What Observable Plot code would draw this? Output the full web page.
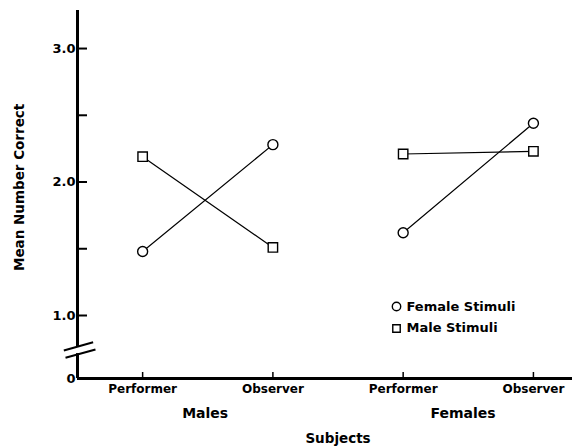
<!DOCTYPE html>
<html>
<head>
<meta charset="utf-8">
<script src="https://cdn.jsdelivr.net/npm/d3@7"></script>
<script src="https://cdn.jsdelivr.net/npm/@observablehq/plot@0.6"></script>
<style>
  html, body { margin: 0; padding: 0; background: #fff; }
  #chart svg { display: block; }
</style>
</head>
<body>
<div id="chart"></div>
<script>
// ---- data ----
const positions = [1, 2, 3, 4];
const roleLabels = ["Performer", "Observer", "Performer", "Observer"];
const groupLabels = ["Males", "Females"];
const groupCenters = [1.48, 3.46];
const seriesNames = ["Female Stimuli", "Male Stimuli"];
const femaleStimuli = [1.48, 2.28, 1.62, 2.44];
const maleStimuli = [2.19, 1.51, 2.21, 2.23];
const yTickValues = [0, 1, 2, 3];
const yTickLabels = ["0", "1.0", "2.0", "3.0"];
const yMinorTicks = [1.5, 2.5];

const rows = [];
positions.forEach((p, i) => {
  const g = groupLabels[i < 2 ? 0 : 1];
  rows.push({x: p, group: g, series: seriesNames[0], value: femaleStimuli[i]});
  rows.push({x: p, group: g, series: seriesNames[1], value: maleStimuli[i]});
});

const W = 580, H = 446;
const mL = 77, mR = 8, mT = 10, mB = 68;
const xMin = 0.5, xMax = 4.3;
const frameW = W - mL - mR, frameH = H - mT - mB;
const font = "'DejaVu Sans', sans-serif";

const chart = Plot.plot({
  width: W,
  height: H,
  marginLeft: mL, marginRight: mR, marginTop: mT, marginBottom: mB,
  style: {fontFamily: font, background: "#fff", color: "#000"},
  x: {type: "linear", domain: [xMin, xMax], axis: null},
  y: {type: "linear", domain: [0, 1, 3.285], range: [H - mB, 315, mT], axis: null},
  marks: [
    // y axis line with break
    Plot.ruleX([xMin], {y1: 0.505, y2: 3.285, stroke: "#000", strokeWidth: 3}),
    Plot.ruleX([xMin], {y1: 0, y2: 0.395, stroke: "#000", strokeWidth: 3}),
    Plot.link([{a: 0.395, b: 0.444, c: 0.62, d: 0.576}, {a: 0.408, b: 0.329, c: 0.638, d: 0.46}],
      {x1: "a", y1: "b", x2: "c", y2: "d", stroke: "#000", strokeWidth: 2}),
    // x axis line
    Plot.ruleY([0], {x1: xMin, x2: xMax, stroke: "#000", strokeWidth: 3}),
    // y ticks (inward)
    Plot.tickY(yTickValues.slice(1).concat(yMinorTicks), {y: d => d, insetRight: frameW - 10, stroke: "#000", strokeWidth: 2}),
    // x ticks (inward)
    Plot.tickX(positions, {x: d => d, insetTop: frameH - 6, stroke: "#000", strokeWidth: 1.5}),
    // y tick labels
    Plot.text(yTickValues, {y: d => d, frameAnchor: "left", dx: -2, textAnchor: "end", lineAnchor: "middle",
      text: (d, i) => yTickLabels[i], fontSize: 13, fontWeight: 700, letterSpacing: "-0.6px", fill: "#000"}),
    // x tick labels
    Plot.text(positions, {x: d => d, frameAnchor: "bottom", dy: 11, lineAnchor: "middle", text: (d, i) => roleLabels[i],
      fontSize: 12, fontWeight: 700, letterSpacing: "0.8px", fill: "#000"}),
    // group labels
    Plot.text(groupCenters, {x: d => d, frameAnchor: "bottom", dy: 35, lineAnchor: "middle", text: (d, i) => groupLabels[i],
      fontSize: 14, fontWeight: 700, letterSpacing: "0.5px", fill: "#000"}),
    // x axis title
    Plot.text(["Subjects"], {x: 2.5, frameAnchor: "bottom", dy: 60, lineAnchor: "middle", text: d => d,
      fontSize: 13.5, fontWeight: 700, letterSpacing: "0.5px", fill: "#000"}),
    // y axis title
    Plot.text(["Mean Number Correct"], {frameAnchor: "left", dx: -58, y: 1.96, rotate: -90, textAnchor: "middle",
      lineAnchor: "middle", text: d => d, fontSize: 13.5, fontWeight: 700, letterSpacing: "1.3px", fill: "#000"}),
    // data lines
    Plot.line(rows, {x: "x", y: "value", z: d => d.series + d.group, stroke: "#000", strokeWidth: 1.2}),
    // markers
    Plot.dot(rows.filter(d => d.series === seriesNames[0]), {x: "x", y: "value", symbol: "circle", r: 5,
      fill: "#fff", stroke: "#000", strokeWidth: 1.4}),
    Plot.dot(rows.filter(d => d.series === seriesNames[1]), {x: "x", y: "value", symbol: "square", r: 5.3,
      fill: "#fff", stroke: "#000", strokeWidth: 1.4}),
    // legend
    Plot.dot([seriesNames[0]], {frameAnchor: "top-left", dx: 319, dy: 296, symbol: "circle", r: 4.2,
      fill: "#fff", stroke: "#000", strokeWidth: 1.4}),
    Plot.dot([seriesNames[1]], {frameAnchor: "top-left", dx: 319, dy: 318, symbol: "square", r: 4.2,
      fill: "#fff", stroke: "#000", strokeWidth: 1.4}),
    Plot.text([seriesNames[0]], {frameAnchor: "top-left", dx: 329, dy: 296, lineAnchor: "middle", text: d => d,
      textAnchor: "start", fontSize: 13, fontWeight: 700, letterSpacing: "0.2px", fill: "#000"}),
    Plot.text([seriesNames[1]], {frameAnchor: "top-left", dx: 329, dy: 317, lineAnchor: "middle", text: d => d,
      textAnchor: "start", fontSize: 13, fontWeight: 700, letterSpacing: "0.2px", fill: "#000"})
  ]
});
document.getElementById("chart").appendChild(chart);
</script>
</body>
</html>
